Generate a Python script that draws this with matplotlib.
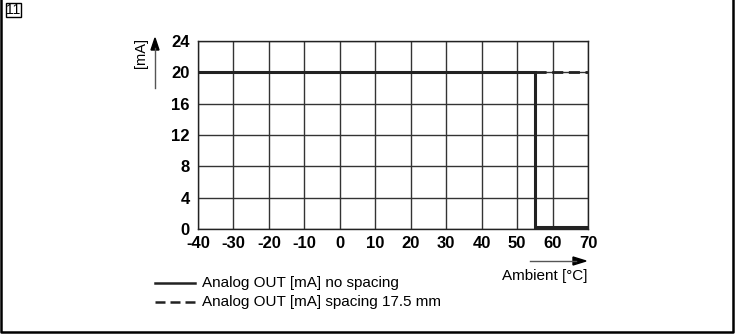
import matplotlib.pyplot as plt
from matplotlib.patches import Rectangle

plt.rcParams['font.family'] = ['Liberation Sans', 'DejaVu Sans']
plt.rcParams['axes.unicode_minus'] = False

# data
x_solid = [-40, 55, 55, 70]
y_solid = [20, 20, 0.3, 0.3]
x_dash = [55, 70]
y_dash = [20, 20]
x_ticks = [-40, -30, -20, -10, 0, 10, 20, 30, 40, 50, 60, 70]
y_ticks = [0, 4, 8, 12, 16, 20, 24]
labels = ["Analog OUT [mA] no spacing", "Analog OUT [mA] spacing 17.5 mm"]

W, H = 735, 336


def fx(px):
    return px / W


def fy(py):
    return 1 - py / H


fig = plt.figure(figsize=(7.35, 3.36), dpi=100)
ax = fig.add_axes([fx(198), fy(229), fx(588) - fx(198), fy(41) - fy(229)])

ax.set_xlim(-40, 70)
ax.set_ylim(0, 24)
ax.set_xticks(x_ticks)
ax.set_yticks(y_ticks)
ax.grid(True, color='#333333', linewidth=1.0)
ax.set_axisbelow(True)
ax.tick_params(axis='x', length=0, labelsize=12, pad=5)
ax.tick_params(axis='y', length=0, labelsize=12, pad=6)
for lab in ax.get_xticklabels() + ax.get_yticklabels():
    lab.set_fontweight('bold')
for s in ax.spines.values():
    s.set_linewidth(1.0)
    s.set_color('#222222')

ax.plot(x_solid, y_solid, color='#222222', linewidth=2.2, solid_joinstyle='miter')
ax.plot(x_dash, y_dash, color='#222222', linewidth=2.0, dashes=(4, 2))

# axis labels with arrows
fig.text(fx(141), fy(53), "[mA]", rotation=90, ha='center', va='center', fontsize=10.5)
fig.add_artist(plt.Line2D([fx(155), fx(155)], [fy(88), fy(48)], color='#555555', linewidth=1.0))
fig.patches.append(plt.Polygon([[fx(151), fy(50)], [fx(159), fy(50)], [fx(155), fy(38)]],
                               closed=True, color='black', transform=fig.transFigure, figure=fig))
fig.add_artist(plt.Line2D([fx(530), fx(576)], [fy(261), fy(261)], color='#555555', linewidth=1.0))
fig.patches.append(plt.Polygon([[fx(573), fy(257)], [fx(573), fy(265)], [fx(586), fy(261)]],
                               closed=True, color='black', transform=fig.transFigure, figure=fig))
fig.text(fx(587), fy(276), "Ambient [°C]", ha='right', va='center', fontsize=11)

# legend drawn by hand
fig.add_artist(plt.Line2D([fx(155), fx(195)], [fy(283)] * 2, color='#222222', linewidth=1.8))
fig.add_artist(plt.Line2D([fx(155), fx(197)], [fy(302)] * 2, color='#222222',
                          linewidth=1.8, dashes=(4, 2)))
fig.text(fx(202), fy(283), labels[0], ha='left', va='center', fontsize=11)
fig.text(fx(202), fy(302), labels[1], ha='left', va='center', fontsize=11)

# figure number box and frame (left, right, bottom)
fig.patches.append(Rectangle((fx(6), fy(17)), fx(15), 14 / H, fill=False,
                             edgecolor='black', linewidth=1.0, transform=fig.transFigure, figure=fig))
fig.text(fx(13.5), fy(10), "11", ha='center', va='center', fontsize=10)
fig.add_artist(plt.Line2D([fx(1), fx(1), fx(733), fx(733)], [fy(0), fy(332), fy(332), fy(0)],
                          color='black', linewidth=1.8))

fig.savefig('out.png', dpi=100)
